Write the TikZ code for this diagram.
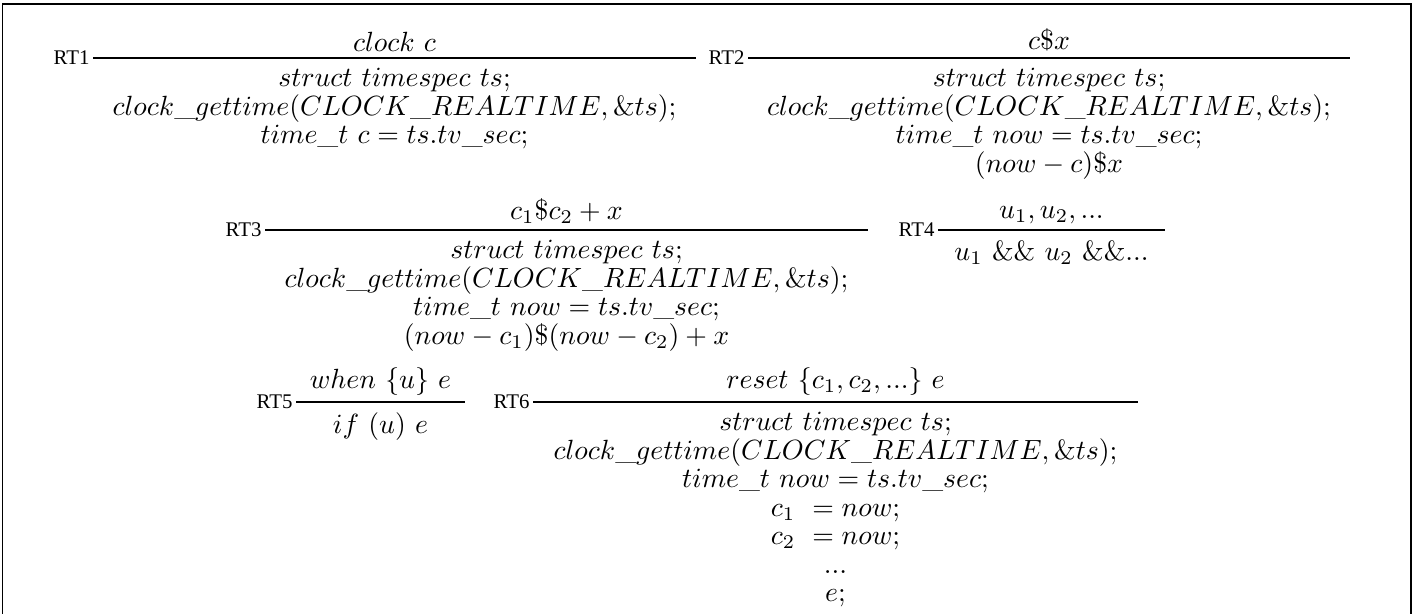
\documentclass[tikz,border=0pt]{standalone}
\usepackage{fontspec}
\newfontfamily\rtfont{Liberation Serif}
\begin{document}
\begin{tikzpicture}[x=0.36pt,y=-0.36pt,
  rt/.style={anchor=base east,inner sep=0pt,font=\rtfont\fontsize{7.5}{9}\selectfont},
  prem/.style={anchor=south,inner sep=0pt,font=\fontsize{10}{10.25}\selectfont},
  concl/.style={anchor=north,inner sep=0pt,align=center,font=\fontsize{10}{10.25}\selectfont},
  bar/.style={line width=0.5pt},
  frame/.style={line width=0.6pt}]
\useasboundingbox (0,0) rectangle (1422,614);
% frame (open at the bottom)
\coordinate (f1) at (2.5,614);
\coordinate (f2) at (2.5,4);
\coordinate (f3) at (1411,4);
\coordinate (f4) at (1411,614);
\draw[frame] (f1) -- (f2) -- (f3) -- (f4);
% ---------- RT1
\coordinate (b1l) at (93,58); \coordinate (b1r) at (696,58);
\node[rt] (rt1) at (90,64.5) {RT1};
\draw[bar] (b1l) -- (b1r);
\node[prem] (p1) at (394.5,52) {$clock\ c$};
\node[concl] (c1) at (394.5,68) {$struct\ timespec\ ts$;\\
  $clock\_gettime(CLOCK\_REALTIME,\&ts)$;\\
  $time\_t\ c=ts.tv\_sec$;};
% ---------- RT2
\coordinate (b2l) at (748,58); \coordinate (b2r) at (1350,58);
\node[rt] (rt2) at (745,64.5) {RT2};
\draw[bar] (b2l) -- (b2r);
\node[prem] (p2) at (1049,52) {$c\$x$};
\node[concl] (c2) at (1049,68) {$struct\ timespec\ ts$;\\
  $clock\_gettime(CLOCK\_REALTIME,\&ts)$;\\
  $time\_t\ now=ts.tv\_sec$;\\
  $(now-c)\$x$};
% ---------- RT3
\coordinate (b3l) at (265,230); \coordinate (b3r) at (868,230);
\node[rt] (rt3) at (262,236.5) {RT3};
\draw[bar] (b3l) -- (b3r);
\node[prem] (p3) at (566.5,224) {$c_1\$c_2+x$};
\node[concl] (c3) at (566.5,240) {$struct\ timespec\ ts$;\\
  $clock\_gettime(CLOCK\_REALTIME,\&ts)$;\\
  $time\_t\ now=ts.tv\_sec$;\\
  $(now-c_1)\$(now-c_2)+x$};
% ---------- RT4
\coordinate (b4l) at (938,230); \coordinate (b4r) at (1165,230);
\node[rt] (rt4) at (935,236.5) {RT4};
\draw[bar] (b4l) -- (b4r);
\node[prem] (p4) at (1051.5,224) {$u_1,u_2,...$};
\node[concl] (c4) at (1051.5,240) {$u_1\ \&\&\ u_2\ \&\&...$};
% ---------- RT5
\coordinate (b5l) at (296,402); \coordinate (b5r) at (465,402);
\node[rt] (rt5) at (293,408.5) {RT5};
\draw[bar] (b5l) -- (b5r);
\node[prem] (p5) at (380.5,396) {$when\ \{u\}\ e$};
\node[concl] (c5) at (380.5,412) {$if\ (u)\ e$};
% ---------- RT6
\coordinate (b6l) at (533,402); \coordinate (b6r) at (1138,402);
\node[rt] (rt6) at (530,408.5) {RT6};
\draw[bar] (b6l) -- (b6r);
\node[prem] (p6) at (835.5,396) {$reset\ \{c_1,c_2,...\}\ e$};
\node[concl] (c6) at (835.5,412) {$struct\ timespec\ ts$;\\
  $clock\_gettime(CLOCK\_REALTIME,\&ts)$;\\
  $time\_t\ now=ts.tv\_sec$;\\
  $c_1\ =now$;\\
  $c_2\ =now$;\\
  $...$\\
  $e$;};
\end{tikzpicture}
\end{document}
